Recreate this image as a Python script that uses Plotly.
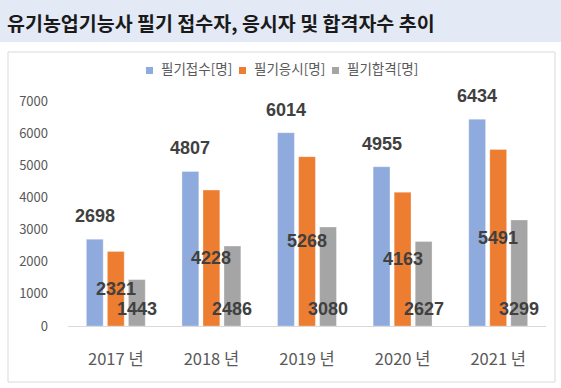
import plotly.graph_objects as go

categories = ["2017 년", "2018 년", "2019 년", "2020 년", "2021 년"]
series_names = ["필기접수[명]", "필기응시[명]", "필기합격[명]"]
applied = [2698, 4807, 6014, 4955, 6434]
took = [2321, 4228, 5268, 4163, 5491]
passed = [1443, 2486, 3080, 2627, 3299]
y_ticks = [0, 1000, 2000, 3000, 4000, 5000, 6000, 7000]
title_text = "유기농업기능사 필기 접수자, 응시자 및 합격자수 추이"

colors = ["#8FAADC", "#ED7D31", "#A5A5A5"]
W, H = 561, 388
ML, MR, MT, MB = 68, 15, 101, 62
PW, PH = W - ML - MR, H - MT - MB
BARGAP, BARGROUPGAP = 0.34, 0.2
FONT = "Noto Sans CJK KR"
NUMFONT = "Liberation Sans"
LEG_X, LEG_PITCH, LEG_Y, LEG_SQ = 146, 93, 70.5, 7

def px2paper_x(px):
    return (px - ML) / PW

def px2paper_y(py):
    return (H - MB - py) / PH

fig = go.Figure()
for name, vals, col in zip(series_names, [applied, took, passed], colors):
    fig.add_trace(go.Bar(x=categories, y=vals, name=name, showlegend=False,
                         marker=dict(color=col, line=dict(color="rgba(255,255,255,0.6)", width=0.5))))

slot = (1 - BARGAP) / 3
label_font = dict(family=NUMFONT, size=18, color="#404040")
annotations = []
for i in range(len(categories)):
    annotations.append(dict(x=i - slot, y=applied[i], xref="x", yref="y", text="<b>%d</b>" % applied[i],
                            showarrow=False, yanchor="middle", yshift=23, font=label_font))
    annotations.append(dict(x=i, y=took[i] / 2, xref="x", yref="y", text="<b>%d</b>" % took[i],
                            showarrow=False, yanchor="middle", font=label_font))
    annotations.append(dict(x=i + slot, y=0, xref="x", yref="y", text="<b>%d</b>" % passed[i],
                            showarrow=False, yanchor="middle", yshift=17, font=label_font))

shapes = [
    dict(type="rect", xref="paper", yref="paper", x0=px2paper_x(0), x1=px2paper_x(W),
         y0=px2paper_y(42), y1=px2paper_y(0), fillcolor="#E3EAF6", line=dict(width=0), layer="below"),
    dict(type="rect", xref="paper", yref="paper", x0=px2paper_x(8), x1=px2paper_x(555),
         y0=px2paper_y(382), y1=px2paper_y(52), fillcolor="rgba(0,0,0,0)",
         line=dict(color="#D9D9D9", width=1), layer="below"),
]

# custom legend (small squares + labels)
for k, (name, col) in enumerate(zip(series_names, colors)):
    x0 = LEG_X + k * LEG_PITCH
    shapes.append(dict(type="rect", xref="paper", yref="paper",
                       x0=px2paper_x(x0), x1=px2paper_x(x0 + LEG_SQ),
                       y0=px2paper_y(LEG_Y + LEG_SQ / 2), y1=px2paper_y(LEG_Y - LEG_SQ / 2),
                       fillcolor=col, line=dict(width=0)))
    annotations.append(dict(x=px2paper_x(x0 + LEG_SQ + 6), y=px2paper_y(LEG_Y - 2.5), xref="paper", yref="paper",
                            text=name, showarrow=False, xanchor="left", yanchor="middle",
                            font=dict(family=FONT, size=13.5, color="#595959")))

fig.update_layout(
    width=W, height=H,
    margin=dict(l=ML, r=MR, t=MT, b=MB),
    paper_bgcolor="white", plot_bgcolor="white",
    barmode="group", bargap=BARGAP, bargroupgap=BARGROUPGAP,
    title=dict(text="<b>" + title_text + "</b>", xref="container", yref="container",
               x=7 / W, xanchor="left", y=1 - 24 / H, yanchor="middle",
               font=dict(family=FONT, size=19.5, color="#1a1a1a")),
    shapes=shapes,
    annotations=annotations,
    font=dict(family=FONT),
    showlegend=False,
)
fig.update_xaxes(showline=True, linecolor="#D9D9D9", linewidth=1, showgrid=False, ticks="",
                 tickfont=dict(family=FONT, size=16.5, color="#595959"), ticklabelstandoff=18)
fig.update_yaxes(range=[0, 7000], tickvals=y_ticks, showgrid=False, showline=False, zeroline=False,
                 ticks="", tickfont=dict(family=FONT, size=13, color="#595959"), ticklabelstandoff=19)

fig.write_html("out.html", config={"displayModeBar": False},
               post_script="document.body.style.margin='0';document.body.style.overflow='hidden';")
